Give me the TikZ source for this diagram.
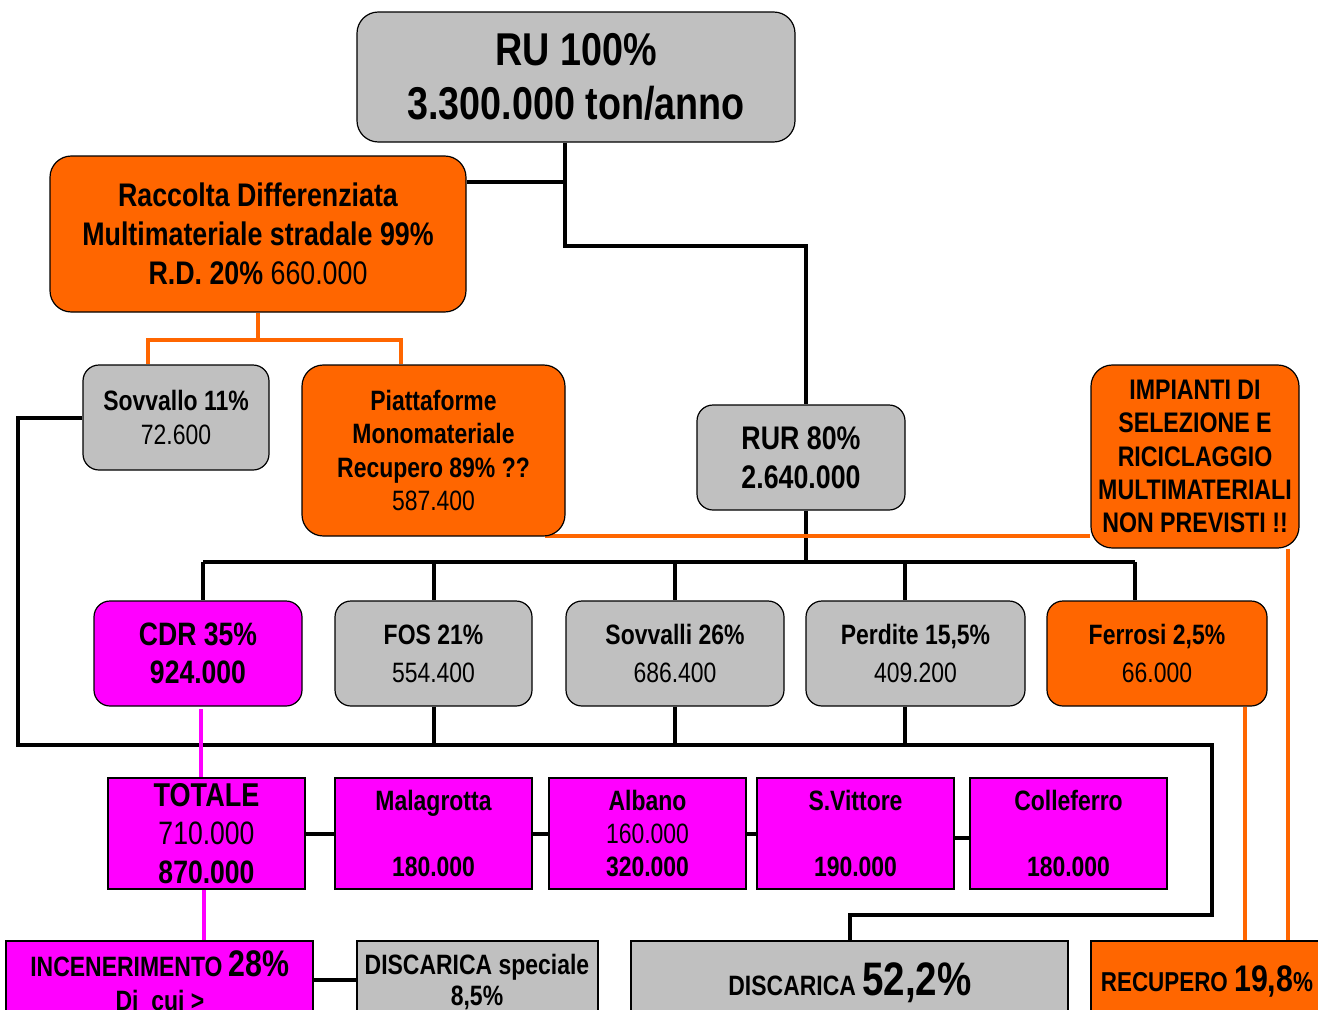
\documentclass[tikz,border=0pt]{standalone}
\usepackage{fontspec}
\setmainfont{Liberation Sans}[FakeStretch=0.82]
\definecolor{gr}{HTML}{C0C0C0}
\definecolor{orng}{HTML}{FF6600}
\definecolor{mag}{HTML}{FF00FF}
\newcommand\fs[2]{\fontsize{#1}{#2}\selectfont}
\pgfdeclarelayer{paper}
\pgfdeclarelayer{lines}
\pgfsetlayers{paper,lines,main}
\begin{document}
\begin{tikzpicture}[x=0.75pt,y=-0.75pt,
  pos/.style args={#1/#2/#3/#4}{minimum width={(#3-#1)*0.75pt}, minimum height={(#4-#2)*0.75pt}, at={({(#1+#3)/2},{(#2+#4)/2})}},
  box/.style={draw=black,line width=0.9pt,rounded corners=12pt,inner sep=0pt,align=center,font=\bfseries},
  sq/.style={draw=black,line width=1.1pt,inner sep=0pt,align=center,font=\bfseries},
  gbox/.style={box,fill=gr}, obox/.style={box,fill=orng}, mbox/.style={box,fill=mag},
  sbox/.style={sq,fill=mag},
  txt/.style={inner sep=0pt,anchor=base,font=\bfseries\fs{21}{25}},
  bl/.style={line width=3pt,black},
  ol/.style={line width=2.6pt,orng},
  ml/.style={line width=2.6pt,mag}]
\useasboundingbox (0,0) rectangle (1318,1010);
\begin{pgfonlayer}{paper}
\fill[white] (0,0) rectangle (1318,1010);
\end{pgfonlayer}
\clip (0,0) rectangle (1318,1010);

% ---------- boxes ----------
\node[gbox,rounded corners=16pt,pos=357/12/795/142,font=\bfseries\fs{34.5}{40.5}] (ru)
  {RU 100\%\\3.300.000 ton/anno};
\node[obox,rounded corners=16pt,pos=50/156/466/312,font=\bfseries\fs{24.5}{29.25}] (rd)
  {Raccolta Differenziata\\Multimateriale stradale 99\%\\R.D. 20\% {\mdseries 660.000}};
\node[gbox,pos=83/365/269/470,font=\bfseries\fs{21}{25.5}] (sov)
  {Sovvallo 11\%\\{\mdseries 72.600}};
\node[obox,rounded corners=16pt,pos=302/365/565/536,font=\bfseries\fs{21}{25}] (piat)
  {Piattaforme\\Monomateriale\\Recupero 89\% ??\\{\mdseries 587.400}};
\node[gbox,pos=697/405/905/510,font=\bfseries\fs{24.5}{29.25}] (rur)
  {RUR 80\%\\2.640.000};
\node[obox,rounded corners=16pt,pos=1091/365/1299/548,font=\bfseries\fs{21.2}{25}] (imp)
  {IMPIANTI DI\\SELEZIONE E\\RICICLAGGIO\\MULTIMATERIALI\\NON PREVISTI !!};

\node[mbox,pos=94/601/302/706,font=\bfseries\fs{24.3}{28.5}] (cdr) {CDR 35\%\\924.000};
\node[gbox,pos=335/601/532/706,font=\bfseries\fs{21}{28.5}] (fos) {FOS 21\%\\{\mdseries 554.400}};
\node[gbox,pos=566/601/784/706,font=\bfseries\fs{21}{28.5}] (sovv) {Sovvalli 26\%\\{\mdseries 686.400}};
\node[gbox,pos=806/601/1025/706,font=\bfseries\fs{21}{28.5}] (perd) {Perdite 15,5\%\\{\mdseries 409.200}};
\node[obox,pos=1047/601/1267/706,font=\bfseries\fs{21}{28.5}] (ferr) {Ferrosi 2,5\%\\{\mdseries 66.000}};

\node[sbox,pos=108/778/305/889,font=\bfseries\fs{24.3}{29}] (tot)
  {{\fs{24.75}{29}TOTALE}\\{\mdseries 710.000}\\870.000};
\node[sbox,pos=335/778/532/889,font=\bfseries\fs{21}{24.75}] (mala)
  {Malagrotta\\[24.75pt]180.000};
\node[sbox,pos=549/778/746/889,font=\bfseries\fs{21}{24.75}] (alba)
  {Albano\\{\mdseries 160.000}\\320.000};
\node[sbox,pos=757/778/954/889,font=\bfseries\fs{21}{24.75}] (svit)
  {S.Vittore\\[24.75pt]190.000};
\node[sbox,pos=970/778/1167/889,font=\bfseries\fs{21}{24.75}] (coll)
  {Colleferro\\[24.75pt]180.000};

\node[sbox,pos=6/941/313/1070] (inc) {};
\node[sq,fill=gr,pos=357/941/598/1070] (dspec) {};
\node[sq,fill=gr,pos=631/941/1068/1070] (disc) {};
\node[sq,fill=orng,pos=1091/941/1330/1070] (rec) {};

\node[txt] (inct1) at (160,976) {INCENERIMENTO {\fs{27.75}{30}28\%}};
\node[txt] (inct2) at (160,1010) {Di~~cui >};
\node[txt] (dspt1) at (477,974) {DISCARICA speciale};
\node[txt] (dspt2) at (477,1005) {8,5\%};
\node[txt] (disct) at (850,995) {DISCARICA {\fs{35.25}{38}52,2\%}};
\node[txt,font=\bfseries\fs{20.5}{25}] (rect) at (1207,991) {RECUPERO {\fs{27.75}{30}19,8}\%};

% ---------- coordinates for connector bends ----------
\coordinate (j1) at (565,182);
\coordinate (j2) at (565,246);
\coordinate (bus) at (806,562);
\coordinate (b1) at (203,562);
\coordinate (b4) at (905,562);
\coordinate (b5) at (1135,562);
\coordinate (L1) at (18,418);
\coordinate (L2) at (18,745);
\coordinate (pd) at (905,745);
\coordinate (R1) at (1212,745);
\coordinate (R2) at (1212,915);
\coordinate (D1) at (850,915);
\coordinate (o1) at (258,340);
\coordinate (o2) at (148,340);
\coordinate (o3) at (401,340);
\coordinate (o4) at (545,536);
\coordinate (o5) at (1245,706);
\coordinate (o6) at (1288,548);
\coordinate (m1) at (201,709);
\coordinate (m2) at (204,889);
\coordinate (h1) at (0,980);

% ---------- connectors (under the boxes) ----------
\begin{pgfonlayer}{lines}
\draw[bl] (rd.east |- j1) -- (j1);
\draw[bl] (j1 |- ru.south) -- (j2) -| (bus |- rur.north);
\draw[bl] (bus |- rur.south) -- (bus);
\draw[bl] (b1) -- (b5);
\draw[bl] (b1) -- (b1 |- cdr.north);
\draw[bl] (fos.north |- bus) -- (fos.north);
\draw[bl] (sovv.north |- bus) -- (sovv.north);
\draw[bl] (b4) -- (b4 |- perd.north);
\draw[bl] (b5) -- (b5 |- ferr.north);
\draw[bl] (sov.west) -- (L1 |- sov.west) -- (L2) -- (R1) -- (R2) -- (D1) -- (D1 |- disc.north);
\draw[bl] (fos.south) -- (fos.south |- L2);
\draw[bl] (sovv.south) -- (sovv.south |- L2);
\draw[bl] (pd |- perd.south) -- (pd);
\draw[bl] (tot.east) -- (mala.west);
\draw[bl] (mala.east) -- (alba.west);
\draw[bl] (alba.east) -- (svit.west);
\draw[bl] ([yshift=-3pt]svit.east) -- ([yshift=-3pt]coll.west);
\draw[bl] (inc.east |- h1) -- (dspec.west |- h1);

\draw[ol] (o1 |- rd.south) -- (o1);
\draw[ol] (o2 |- sov.north) -- (o2) -- (o3) -- (o3 |- piat.north);
\draw[ol] (o4) -- (imp.west |- o4);
\draw[ol] (o5 |- ferr.south) -- (o5 |- rec.north);
\draw[ol] (o6 |- imp.south) -- (o6 |- rec.north);

\draw[ml] (m1) -- (m1 |- tot.north);
\draw[ml] (m2 |- tot.south) -- (m2 |- inc.north);
\end{pgfonlayer}
\end{tikzpicture}
\end{document}
